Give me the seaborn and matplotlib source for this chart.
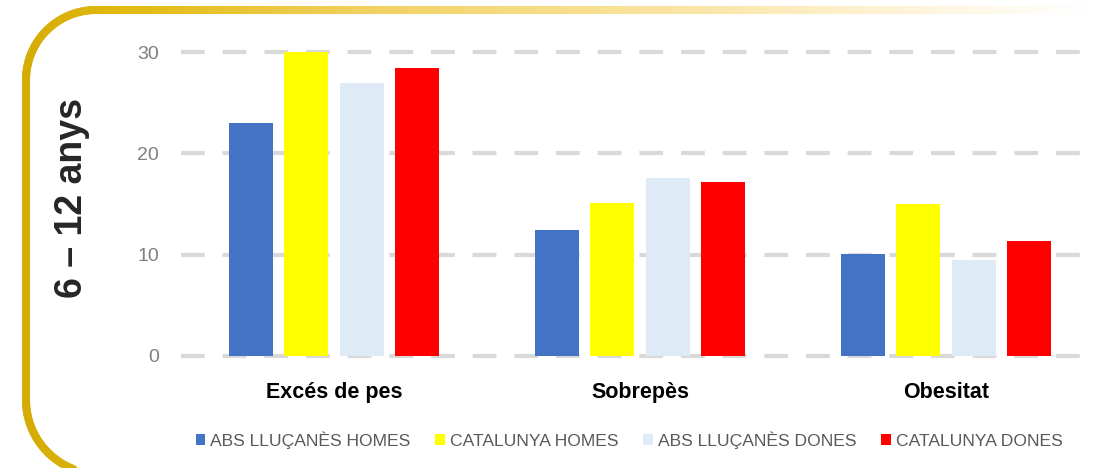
import numpy as np
import pandas as pd
import seaborn as sns
import matplotlib.pyplot as plt
from matplotlib.collections import LineCollection
from matplotlib.colors import LinearSegmentedColormap

# values (%)
categories = ['Excés de pes', 'Sobrepès', 'Obesitat']
series = ['ABS LLUÇANÈS HOMES', 'CATALUNYA HOMES', 'ABS LLUÇANÈS DONES', 'CATALUNYA DONES']
abs_homes = [23.0, 12.4, 10.1]
cat_homes = [30.0, 15.1, 15.0]
abs_dones = [26.9, 17.6, 9.5]
cat_dones = [28.4, 17.2, 11.3]
colors = ['#4472C4', '#FFFF00', '#DEEAF6', '#FF0000']
y_ticks = [0, 10, 20, 30]
y_label = '6 – 12 anys'

W, H = 1097, 468

sns.set_theme(style='white')
plt.rcParams['font.family'] = ['Liberation Sans', 'DejaVu Sans']

df = pd.DataFrame({
    'categoria': categories * 4,
    'grup': [s for s in series for _ in categories],
    'valor': abs_homes + cat_homes + abs_dones + cat_dones,
})

fig = plt.figure(figsize=(W / 100, H / 100), dpi=100)

# rounded gold frame on the left / top, fading towards the right
bg = fig.add_axes([0, 0, 1, 1], zorder=0)
bg.set_xlim(0, W)
bg.set_ylim(H, 0)
bg.axis('off')

t_bot = np.linspace(np.pi / 2, np.pi, 40)
bot = np.c_[100 + 74 * np.cos(t_bot), 400 + 74 * np.sin(t_bot)]
left = np.c_[np.full(60, 26.0), np.linspace(400, 80, 60)]
t_top = np.linspace(np.pi, 1.5 * np.pi, 40)
top = np.c_[96 + 70 * np.cos(t_top), 80 + 70 * np.sin(t_top)]
line = np.c_[np.linspace(96, W, 200), np.full(200, 10.0)]
pts = np.vstack([bot, left, top, line])
segs = np.stack([pts[:-1], pts[1:]], axis=1)
frame_cmap = LinearSegmentedColormap.from_list('frame', [
    (0.0, '#D2A900'), (0.12, '#E2BA12'), (0.35, '#F2D265'),
    (0.65, '#FBE6AA'), (0.85, '#FEF5DE'), (1.0, '#FFFFFF')])
mid_x = segs[:, :, 0].mean(axis=1) / W
lc = LineCollection(segs, colors=frame_cmap(mid_x), linewidths=5.8, capstyle='round')
bg.add_collection(lc)

# main chart
ax = fig.add_axes([181 / W, 1 - 361 / H, 918 / W, 314 / H], zorder=1)
ax.patch.set_alpha(0)
sns.barplot(data=df, x='categoria', y='valor', hue='grup', hue_order=series,
            palette=colors, width=0.72, gap=0.2, saturation=1,
            edgecolor='none', ax=ax)

ax.set_xlim(-0.5, 2.5)
ax.set_ylim(-0.5, 30.5)
ax.set_yticks(y_ticks)
for y in y_ticks:
    ax.axhline(y, color='#D9D9D9', lw=3, dashes=(5.7, 4.3), zorder=0)
sns.despine(ax=ax, left=True, bottom=True)
ax.tick_params(axis='y', length=0, pad=16, labelsize=14, labelcolor='#7F7F7F')
ax.tick_params(axis='x', length=0, pad=15)
for lab in ax.get_xticklabels():
    lab.set_fontweight('bold')
    lab.set_fontsize(15.5)
    lab.set_color('black')
ax.set_xlabel('')
ax.set_ylabel('')

fig.text(72 / W, 1 - 198 / H, y_label, rotation=90, ha='center', va='center',
         fontsize=27, fontweight='bold')

sns.move_legend(ax, 'center', bbox_to_anchor=(629 / W, 1 - 440 / H),
                bbox_transform=fig.transFigure, ncol=4, frameon=False, title=None,
                fontsize=12.6, handlelength=0.55, handleheight=0.55,
                handletextpad=0.3, columnspacing=1.4, labelcolor='#595959')

fig.savefig('out.png', dpi=100)
